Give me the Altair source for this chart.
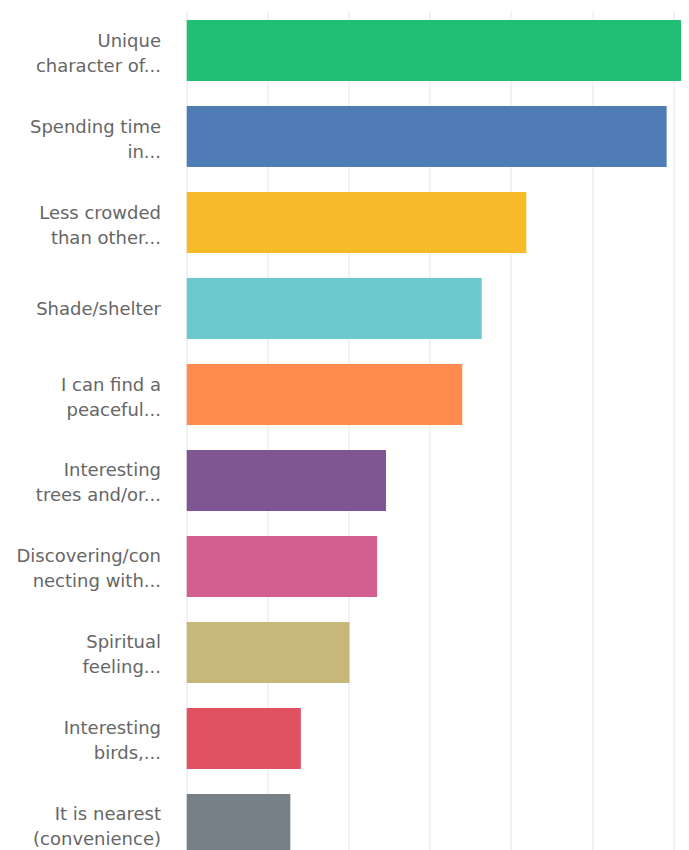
import altair as alt
import pandas as pd

categories = [
    "Unique|character of...",
    "Spending time|in...",
    "Less crowded|than other...",
    "Shade/shelter",
    "I can find a|peaceful...",
    "Interesting|trees and/or...",
    "Discovering/con|necting with...",
    "Spiritual|feeling...",
    "Interesting|birds,...",
    "It is nearest|(convenience)",
]
values = [66.0, 59.2, 41.9, 36.4, 34.0, 24.6, 23.5, 20.1, 14.1, 12.8]
colors = ["#21BF73", "#507CB6", "#F7BB2A", "#6BC8CD", "#FF8B4F",
          "#7F5691", "#D25F90", "#C7B879", "#E05161", "#768086"]
tick_values = [0, 10, 20, 30, 40, 50, 60]

df = pd.DataFrame({"cat": categories, "val": values})

chart = alt.Chart(df).mark_bar(clip=True).encode(
    y=alt.Y("cat:N", sort=categories, title=None,
            scale=alt.Scale(paddingInner=0.29, paddingOuter=0.105),
            axis=alt.Axis(labelExpr="split(datum.label, '|')", labelFont="DejaVu Sans",
                          labelFontSize=18, labelColor="#666666", labelPadding=26,
                          labelOffset={"condition": {"test": "indexof(datum.value, '|') >= 0", "value": -9}, "value": 1},
                          ticks=False, domain=False, grid=False, labelLineHeight=25,
                          labelLimit=200)),
    x=alt.X("val:Q", title=None,
            scale=alt.Scale(domain=[0, 60.97], nice=False, zero=True),
            axis=alt.Axis(values=tick_values, labels=False, ticks=False, domain=False,
                          grid=True, gridColor="#e6e6e6", gridWidth=1)),
    color=alt.Color("cat:N", sort=categories, scale=alt.Scale(domain=categories, range=colors), legend=None),
).properties(
    width=494.5, height=853,
    autosize=alt.AutoSizeParams(type="none"),
    padding={"left": 178.5, "top": 3, "right": 0, "bottom": 0},
).configure_view(stroke=None)

chart.save("out.html", embed_options={"renderer": "svg", "actions": False})
